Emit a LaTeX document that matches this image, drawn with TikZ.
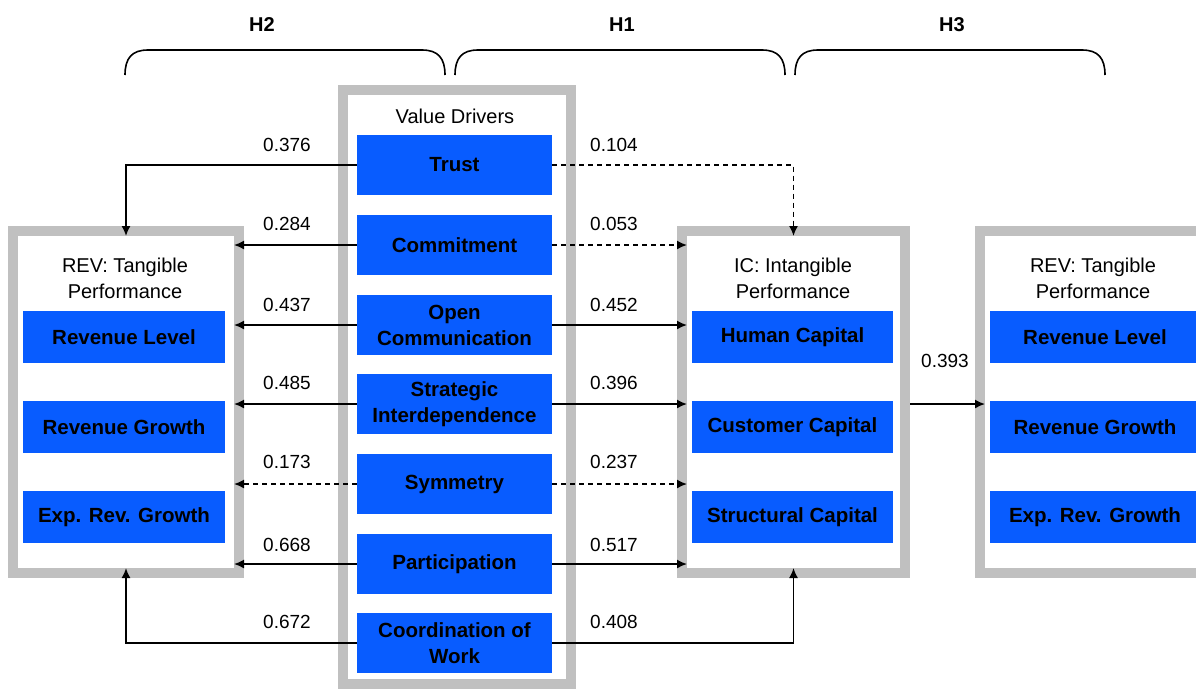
\documentclass[tikz,border=0pt]{standalone}
\usepackage{fontspec}
\setmainfont{Liberation Sans}
\usetikzlibrary{arrows.meta}
\definecolor{boxblue}{RGB}{8,92,255}
\definecolor{framegray}{RGB}{192,192,192}
\begin{document}
\begin{tikzpicture}[x=1pt,y=-1pt,
  frame/.style={draw=framegray, line width=10pt, fill=white, inner sep=0pt, outer sep=-5pt},
  driver/.style={fill=boxblue, minimum width=195pt, minimum height=60pt, inner sep=0pt,
    font=\fontsize{20.5}{26}\selectfont\bfseries, align=center, text=black},
  measure/.style={fill=boxblue, minimum height=52pt, inner sep=0pt,
    font=\fontsize{20.5}{24}\selectfont\bfseries, text=black},
  title/.style={font=\fontsize{20}{26}\selectfont, align=center},
  num/.style={font=\fontsize{19}{23}\selectfont},
  hyp/.style={font=\fontsize{20}{24}\selectfont\bfseries},
  conn/.style={line width=1.6pt, -{Latex[length=10pt,width=9pt]}},
  dashconn/.style={conn, dash pattern=on 5pt off 4pt},
  bracket/.style={line width=1.6pt}
]
\useasboundingbox (0,0) rectangle (1196,689);
\clip (0,0) rectangle (1196,689);

% hypothesis brackets
\node[hyp] (h2) at (262,25) {H2};
\node[hyp] (h1) at (622,25) {H1};
\node[hyp] (h3) at (952,25) {H3};
\draw[bracket] (125,75) .. controls (125,58) and (132,50) .. (148,50) -- (422,50) .. controls (438,50) and (445,58) .. (445,75);
\draw[bracket] (455,75) .. controls (455,58) and (462,50) .. (478,50) -- (762,50) .. controls (778,50) and (785,58) .. (785,75);
\draw[bracket] (795,75) .. controls (795,58) and (802,50) .. (818,50) -- (1082,50) .. controls (1098,50) and (1105,58) .. (1105,75);

% grey frames
\node[frame, minimum width=226pt, minimum height=342pt] (revL) at (126,402) {};
\node[frame, minimum width=223pt, minimum height=342pt] (ic) at (793.5,402) {};
\node[frame, minimum width=236pt, minimum height=342pt] (revR) at (1098,402) {};
\node[frame, minimum width=228pt, minimum height=594pt] (vd) at (457,387) {};

% frame titles
\node[title] (vdT) at (455,116) {Value Drivers};
\node[title] (revLT) at (125,278) {REV: Tangible\\Performance};
\node[title] (icT) at (793,278) {IC: Intangible\\Performance};
\node[title] (revRT) at (1093,278) {REV: Tangible\\Performance};

% value drivers
\node[driver] (trust) at (454.5,165) {Trust};
\node[driver] (commit) at (454.5,245) {Commitment};
\node[driver] (open) at (454.5,325) {Open\\Communication};
\node[driver] (strat) at (454.5,404) {Strategic\\Interdependence};
\node[driver] (sym) at (454.5,484) {Symmetry};
\node[driver] (part) at (454.5,564) {Participation};
\node[driver] (coord) at (454.5,643) {Coordination of\\Work};

% tangible performance (left)
\node[measure, minimum width=202pt] (lvlL) at (124,337) {Revenue Level};
\node[measure, minimum width=202pt] (grwL) at (124,427) {Revenue Growth};
\node[measure, minimum width=202pt] (expL) at (124,517) {Exp. Rev. Growth};

% intangible performance
\node[measure, minimum width=201pt] (hum) at (792.5,337) {Human Capital};
\node[measure, minimum width=201pt] (cust) at (792.5,427) {Customer Capital};
\node[measure, minimum width=201pt] (struc) at (792.5,517) {Structural Capital};

% tangible performance (right)
\node[measure, minimum width=210pt] (lvlR) at (1095,337) {Revenue Level};
\node[measure, minimum width=210pt] (grwR) at (1095,427) {Revenue Growth};
\node[measure, minimum width=210pt] (expR) at (1095,517) {Exp. Rev. Growth};

% paths towards tangible performance (H2)
\draw[conn] (trust.west) -| (revL.north);
\draw[conn] (commit.west) -- (commit.west -| revL.east);
\draw[conn] (open.west) -- (open.west -| revL.east);
\draw[conn] (strat.west) -- (strat.west -| revL.east);
\draw[dashconn] (sym.west) -- (sym.west -| revL.east);
\draw[conn] (part.west) -- (part.west -| revL.east);
\draw[conn] (coord.west) -| (revL.south);

% paths towards intangible performance (H1)
\draw[dashconn] (trust.east) -| (ic.north);
\draw[dashconn] (commit.east) -- (commit.east -| ic.west);
\draw[conn] (open.east) -- (open.east -| ic.west);
\draw[conn] (strat.east) -- (strat.east -| ic.west);
\draw[dashconn] (sym.east) -- (sym.east -| ic.west);
\draw[conn] (part.east) -- (part.east -| ic.west);
\draw[conn] (coord.east) -| (ic.south);

% intangible to tangible (H3)
\draw[conn] ([xshift=10pt]ic.east |- strat.east) -- (revR.west |- strat.east);

% coefficients
\node[num] (c1) at (287,145) {0.376};
\node[num] (c2) at (287,224) {0.284};
\node[num] (c3) at (287,305) {0.437};
\node[num] (c4) at (287,383) {0.485};
\node[num] (c5) at (287,462) {0.173};
\node[num] (c6) at (287,545) {0.668};
\node[num] (c7) at (287,622) {0.672};
\node[num] (d1) at (614,145) {0.104};
\node[num] (d2) at (614,224) {0.053};
\node[num] (d3) at (614,305) {0.452};
\node[num] (d4) at (614,383) {0.396};
\node[num] (d5) at (614,462) {0.237};
\node[num] (d6) at (614,545) {0.517};
\node[num] (d7) at (614,622) {0.408};
\node[num] (e1) at (945,361) {0.393};
\end{tikzpicture}
\end{document}
